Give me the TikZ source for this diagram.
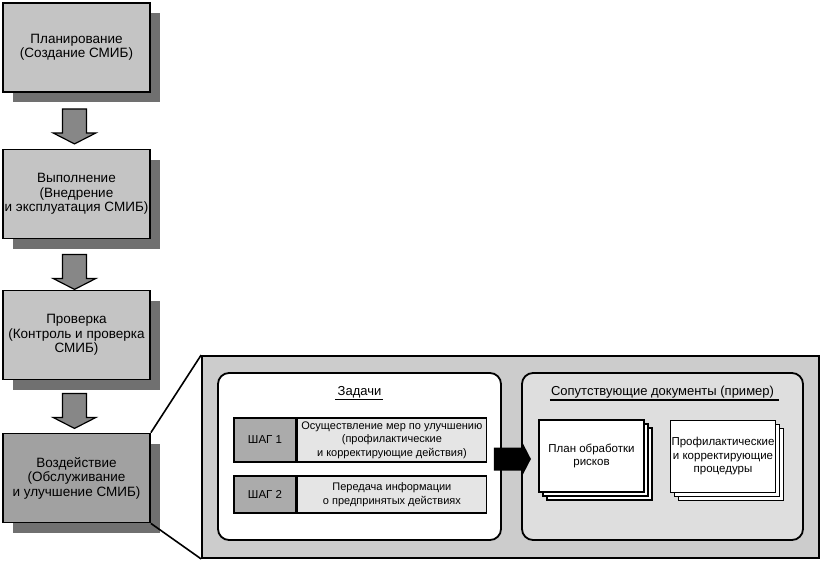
\documentclass[tikz,border=0pt]{standalone}
\usepackage{fontspec}
\setmainfont{Liberation Sans}
\usetikzlibrary{calc,shadows}
\definecolor{boxgray}{gray}{0.77}
\definecolor{actgray}{gray}{0.63}
\definecolor{shadowgray}{gray}{0.44}
\definecolor{arrowgray}{gray}{0.53}
\definecolor{biggray}{gray}{0.80}
\definecolor{docsgray}{gray}{0.87}
\definecolor{labgray}{gray}{0.67}
\definecolor{celgray}{gray}{0.90}
\tikzset{
  phase/.style={draw=black, line width=1.8pt, minimum width=147pt, minimum height=89pt,
    inner sep=0pt, align=center, font=\fontsize{13.5}{14.5}\selectfont, fill=boxgray,
    drop shadow={shadow xshift=10pt, shadow yshift=-10pt, fill=shadowgray, opacity=1, draw=none}},
  steplab/.style={draw=black, line width=1.4pt, fill=labgray, minimum width=62pt, inner sep=0pt,
    font=\fontsize{11.5}{13.5}\selectfont},
  steptxt/.style={draw=black, line width=1.4pt, fill=celgray, minimum width=189pt, inner sep=0pt,
    align=center, font=\fontsize{11}{13.5}\selectfont},
  docpage/.style={draw=black, line width=1.2pt, fill=white, minimum width=105pt, minimum height=72pt,
    inner sep=0pt, align=center, font=\fontsize{11.5}{13.5}\selectfont},
  grayarrow/.style={draw=black, line width=1.2pt, fill=arrowgray},
  panel/.style={draw=black, line width=1.8pt, rounded corners=11pt, inner sep=0pt},
  ttl/.style={inner sep=0pt, font=\fontsize{13}{15}\selectfont}
}
\begin{document}
\begin{tikzpicture}[x=1pt,y=-1pt]
\useasboundingbox (0,0) rectangle (821,562);

% phases
\node[phase] (b1) at (76.5,47.5) {Планирование\\(Создание СМИБ)};
\node[phase] (b2) at (76.5,194) {Выполнение\\(Внедрение\\и эксплуатация СМИБ)};
\node[phase] (b3) at (76.5,335) {Проверка\\(Контроль и проверка\\СМИБ)};
\node[phase, fill=actgray] (b4) at (76.5,478) {Воздействие\\(Обслуживание\\и улучшение СМИБ)};

% gray block arrows
\foreach \a/\d in {b1/16, b2/15, b3/13}{
  \path (\a.south) ++(-2,\d) coordinate (t\a);
  \begin{scope}[shift={(t\a)}]
    \draw[grayarrow] (-12,0) -- (12,0) -- (12,24) -- (21.5,24) -- (0,35) -- (-21.5,24) -- (-12,24) -- cycle;
  \end{scope}
}

% big detail box
\node[draw=black, line width=1.8pt, fill=biggray, minimum width=617pt, minimum height=202pt, inner sep=0pt]
  (big) at (510.5,457) {};
\draw[line width=1.6pt] (b4.north east) -- (big.north west);
\draw[line width=1.6pt] (b4.south east) -- (big.south west);

% panels
\node[panel, fill=white, minimum width=283pt, minimum height=167pt] (tasks) at (359.5,456.5) {};
\node[panel, fill=docsgray, minimum width=281pt, minimum height=167pt] (docs) at (662.5,456.5) {};

% titles
\node[ttl] (tt) at (359.5,392) {Задачи};
\draw[line width=1.3pt] ($(tt.base west)+(-2,4.5)$) -- ($(tt.base east)+(1,4.5)$);
\node[ttl] (dt) at (662.5,392) {Сопутствующие документы (пример)};
\draw[line width=1.3pt] ($(dt.base west)+(-1,4.5)$) -- ($(dt.base east)+(5,4.5)$);

% steps
\node[steplab, minimum height=44pt] (s1l) at (265,440) {ШАГ 1};
\node[steptxt, minimum height=44pt, anchor=west] (s1t) at (s1l.east) {Осуществление мер по улучшению\\(профилактические\\и корректирующие действия)};
\node[steplab, minimum height=37pt] (s2l) at (265,494.5) {ШАГ 2};
\node[steptxt, minimum height=37pt, anchor=west] (s2t) at (s2l.east) {Передача информации\\о предпринятых действиях};

% documents
\node[docpage] (d1b2) at (599.5,464) {};
\node[docpage] (d1b1) at (595.5,460) {};
\node[docpage] (d1) at (591.5,456) {План обработки\\рисков};
\node[docpage] (d2b2) at (731,464.5) {};
\node[docpage] (d2b1) at (727,460.5) {};
\node[docpage] (d2) at (723,456.5) {Профилактические\\и корректирующие\\процедуры};

% black arrow from tasks to documents
\path (tasks.east) ++(-8,2.5) coordinate (ba);
\begin{scope}[shift={(ba)}]
  \fill[black] (0,-11.5) -- (29,-11.5) -- (29,-15.5) -- (37,0) -- (29,15.5) -- (29,11.5) -- (0,11.5) -- cycle;
\end{scope}
\end{tikzpicture}
\end{document}
